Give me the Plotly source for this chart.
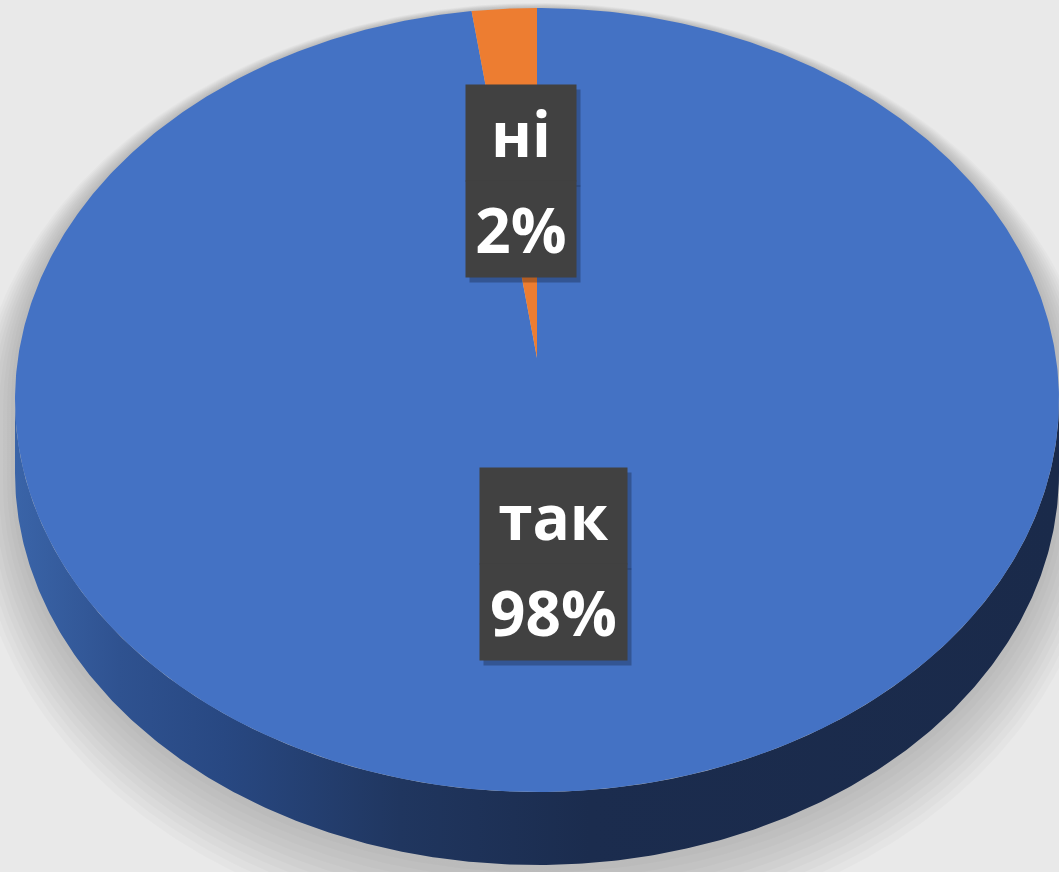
import numpy as np
import plotly.graph_objects as go

# ---- data ----
labels = ["так", "ні"]
values = [98, 2]
colors = ["#4472C4", "#ED7D31"]

# ---- geometry / style (pixels) ----
W, H = 1059, 872
CX, CY, A, B = 537, 400, 522, 392      # top-surface ellipse
APEX = (537, 358)                        # projected pie centre
DEPTH = 73
LABEL_R = 0.49
LABEL_DY = -6

def ell(theta, dy=0.0, grow=0.0):
    t = np.radians(theta)
    return CX + (A + grow) * np.sin(t), CY + dy - (B + grow) * np.cos(t)

fig = go.Figure()

# background
fig.add_trace(go.Scatter(
    x=[0, W, W, 0, 0], y=[0, 0, H, H, 0], mode="lines", line=dict(width=0),
    fill="toself", fillgradient=dict(type="radial", colorscale=[[0, "#f7f7f7"], [1, "#e9e9e9"]]),
    hoverinfo="skip", showlegend=False))

# soft shadow (mostly below)
for k in range(1, 11):
    th1 = np.linspace(270, 450, 181)
    th2 = np.linspace(90, 270, 181)
    x1, y1 = ell(th1, dy=k * 3.5, grow=k * 4.0)
    x2, y2 = ell(th2, dy=DEPTH + k * 3.5, grow=k * 4.0)
    fig.add_trace(go.Scatter(
        x=np.r_[x1, x2], y=np.r_[y1, y2], mode="lines", line=dict(width=0),
        fill="toself", fillcolor="rgba(0,0,0,0.02)", hoverinfo="skip", showlegend=False))

# side of the cylinder
th = np.linspace(90, 270, 361)
xt, yt = ell(th)
xb, yb = ell(th[::-1], dy=DEPTH)
fig.add_trace(go.Scatter(
    x=np.r_[xt, xb], y=np.r_[yt, yb], mode="lines", line=dict(width=0),
    fill="toself",
    fillgradient=dict(type="horizontal", colorscale=[
        [0.0, "#3a64a8"], [0.1, "#2f5290"], [0.2, "#284882"],
        [0.37, "#20365f"], [0.55, "#1b2c4e"], [1.0, "#1a2a4a"]]),
    hoverinfo="skip", showlegend=False))

# top-surface slices
total = sum(values)
cum = np.cumsum([0] + values) / total * 360.0
label_pos = []
for i, (lab, v) in enumerate(zip(labels, values)):
    a0, a1 = cum[i], cum[i + 1]
    arc = np.linspace(a0, a1, max(3, int((a1 - a0) * 2)))
    xs, ys = ell(arc)
    fig.add_trace(go.Scatter(
        x=np.r_[APEX[0], xs, APEX[0]], y=np.r_[APEX[1], ys, APEX[1]],
        mode="lines", line=dict(width=0), fill="toself", fillcolor=colors[i],
        name=lab, hoverinfo="skip", showlegend=False))
    mid = (a0 + a1) / 2
    bx, by = ell(mid)
    label_pos.append((APEX[0] + LABEL_R * (bx - APEX[0]),
                      APEX[1] + LABEL_R * (by - APEX[1]) + LABEL_DY))

# labels
font = dict(family="Open Sans", size=62, color="white")
for (lx, ly), lab, v in zip(label_pos, labels, values):
    pct = f"{v / total * 100:.0f}%"
    n = max(len(lab), len(pct))
    bw = 37 * n + 36
    for txt, ys in ((lab, 48), (pct, -48)):
        fig.add_annotation(x=lx, y=ly, xref="x", yref="y", text=" ", showarrow=False,
                           width=bw, height=96, bgcolor="rgba(0,0,0,0.25)", borderpad=0,
                           xshift=4, yshift=ys - 5)
    for txt, ys in ((lab, 48), (pct, -48)):
        fig.add_annotation(x=lx, y=ly, xref="x", yref="y", text=f"<b>{txt}</b>", showarrow=False,
                           width=bw, height=96, bgcolor="#414141", borderpad=0,
                           font=font, valign="middle", align="center", yshift=ys)

fig.update_xaxes(range=[0, W], visible=False, fixedrange=True)
fig.update_yaxes(range=[H, 0], visible=False, fixedrange=True)
fig.update_layout(width=W, height=H, autosize=False, margin=dict(l=0, r=0, t=0, b=0),
                  paper_bgcolor="#efefef", plot_bgcolor="#efefef", showlegend=False)
fig.write_html("out.html", config={"displayModeBar": False},
               post_script="document.body.style.margin='0';document.body.style.overflow='hidden';")
